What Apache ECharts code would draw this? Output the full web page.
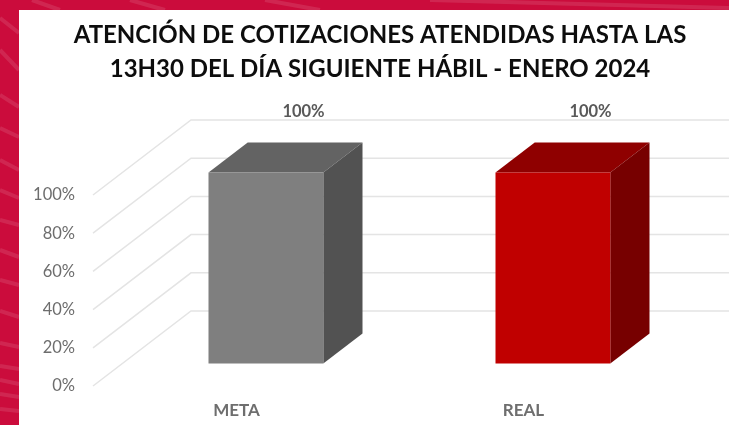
<!DOCTYPE html>
<html>
<head>
<meta charset="utf-8">
<style>
  html, body {margin: 0; padding: 0; background: #cb0c3c;}
  #chart {width: 729px; height: 425px;}
</style>
<script src="https://cdn.jsdelivr.net/npm/echarts@6/dist/echarts.min.js"></script>
</head>
<body>
<div id="chart"></div>
<script>
const titleLines = ['ATENCIÓN DE COTIZACIONES ATENDIDAS HASTA LAS', '13H30 DEL DÍA SIGUIENTE HÁBIL - ENERO 2024'];
const categories = ['META', 'REAL'];
const values = [1, 1];
const yTicks = [0, 0.2, 0.4, 0.6, 0.8, 1];

const frontColors = ['#7f7f7f', '#c00000'];
const topColors = ['#636363', '#8f0000'];
const sideColors = ['#525252', '#770000'];

// fake 3d: how far the back wall sits from the front of the floor, in px
const DX = 98, DY = -75;
// the box takes the middle 40% of the floor depth
const BOX_START = 0.3, BOX_DEPTH = 0.4, BOX_WIDTH = 0.4;

// streaks of the slide background behind the chart
const streaks = [
  [0, 18, 19, 33], [0, 50, 19, 70], [0, 95, 19, 107], [0, 128, 19, 137], [0, 160, 19, 170],
  [0, 190, 19, 198], [0, 220, 19, 225], [0, 250, 19, 257], [0, 280, 19, 285], [0, 311, 19, 317],
  [0, 343, 19, 347], [0, 366, 19, 369], [0, 380, 19, 384], [0, 394, 19, 397], [0, 409, 19, 411],
  [32, 0, 60, 10], [130, 0, 165, 10], [265, 0, 320, 10], [430, 0, 729, 8]
];

const chart = echarts.init(document.getElementById('chart'));

const renderWall = (params, api) => {
  const p = api.coord([0, api.value(0)]);
  const cs = params.coordSys;
  return {
    type: 'polyline',
    shape: {points: [[cs.x, p[1]], [cs.x + DX, p[1] + DY], [cs.x + cs.width + DX, p[1] + DY]]},
    style: {fill: null, stroke: '#e4e4e4', lineWidth: 1.5}
  };
};

const renderBox = (params, api) => {
  const i = params.dataIndex;
  const top = api.coord([i, api.value(1)]);
  const base = api.coord([i, 0]);
  const w = api.size([1, 0])[0] * BOX_WIDTH;
  const sx = DX * BOX_START, sy = DY * BOX_START;
  const dx = DX * BOX_DEPTH, dy = DY * BOX_DEPTH;
  const x0 = top[0] + sx - w / 2, x1 = x0 + w;
  const y0 = top[1] + sy, y1 = base[1] + sy;
  return {
    type: 'group',
    children: [
      {type: 'polygon', shape: {points: [[x0, y0], [x0 + dx, y0 + dy], [x1 + dx, y0 + dy], [x1, y0]]}, style: {fill: topColors[i]}},
      {type: 'polygon', shape: {points: [[x1, y0], [x1 + dx, y0 + dy], [x1 + dx, y1 + dy], [x1, y1]]}, style: {fill: sideColors[i]}},
      {type: 'rect', shape: {x: x0, y: y0, width: w, height: y1 - y0}, style: {fill: frontColors[i]}},
      {
        type: 'text',
        x: top[0] + 67,
        y: top[1] - 83,
        style: {
          text: Math.round(api.value(1) * 100) + '%',
          fill: '#595959',
          font: 'bold 16.5px Lato',
          align: 'center',
          verticalAlign: 'middle'
        }
      }
    ]
  };
};

chart.setOption({
  animation: false,
  backgroundColor: '#cb0c3c',
  textStyle: {fontFamily: 'Lato'},
  title: {
    text: titleLines.join('\n'),
    left: 375,
    top: 13,
    textAlign: 'center',
    textStyle: {fontFamily: 'Lato', fontWeight: 'bold', fontSize: 24, lineHeight: 34, color: '#0d0d0d'}
  },
  graphic: [
    {type: 'rect', z: -2, shape: {x: 19, y: 10, width: 710, height: 415}, style: {fill: '#fff'}},
    ...streaks.map(s => ({
      type: 'line',
      z: -3,
      shape: {x1: s[0], y1: s[1], x2: s[2], y2: s[3]},
      style: {stroke: 'rgba(255,255,255,0.11)', lineWidth: 4}
    }))
  ],
  grid: {left: 93, top: 195, width: 574, height: 191},
  xAxis: {
    type: 'category',
    data: categories,
    axisLine: {show: false},
    axisTick: {show: false},
    axisLabel: {margin: 16, fontFamily: 'Lato', fontWeight: 'bold', fontSize: 17, color: '#6e6e6e'}
  },
  yAxis: {
    type: 'value',
    min: 0,
    max: 1,
    interval: 0.2,
    splitLine: {show: false},
    axisLine: {show: false},
    axisTick: {show: false},
    axisLabel: {
      margin: 18,
      fontFamily: 'Lato',
      fontSize: 16.5,
      color: '#6d6d6d',
      formatter: v => Math.round(v * 100) + '%'
    }
  },
  series: [
    {type: 'custom', z: 1, silent: true, renderItem: renderWall, data: yTicks.map(v => [v]), encode: {y: 0}},
    {type: 'custom', z: 2, silent: true, renderItem: renderBox, data: values.map((v, i) => [i, v]), encode: {x: 0, y: 1}}
  ]
});
</script>
</body>
</html>
